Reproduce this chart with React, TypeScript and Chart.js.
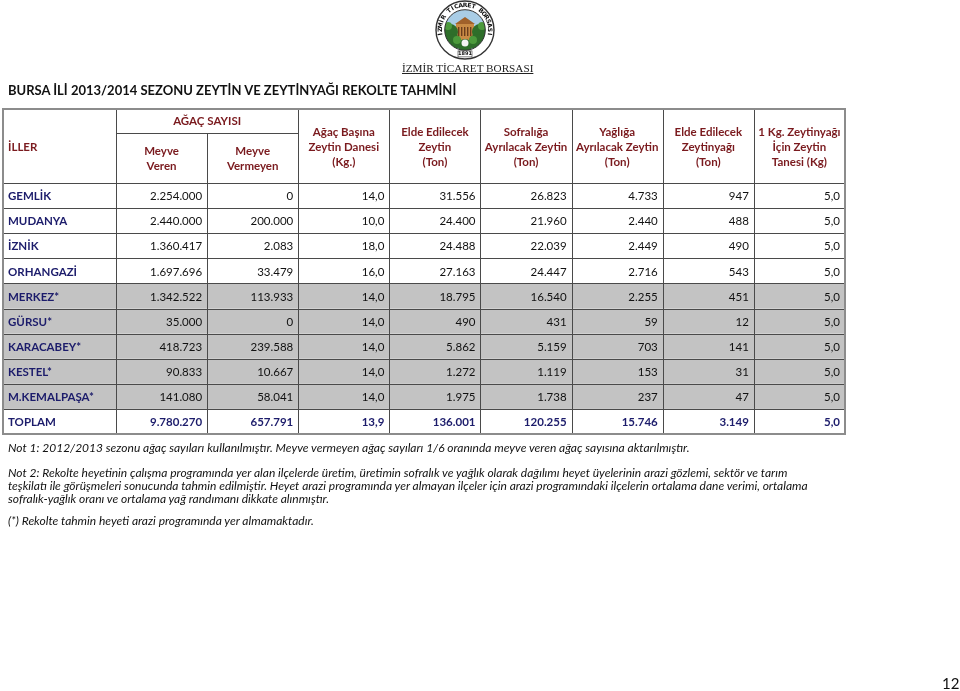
import React, { useEffect, useRef } from 'react';
import { Chart, registerables } from 'chart.js';

Chart.register(...registerables);

// ---------- data ----------
const DISTRICTS = ['GEMLİK', 'MUDANYA', 'İZNİK', 'ORHANGAZİ', 'MERKEZ*', 'GÜRSU*', 'KARACABEY*', 'KESTEL*', 'M.KEMALPAŞA*', 'TOPLAM'];
const MEYVE_VEREN = [2254000, 2440000, 1360417, 1697696, 1342522, 35000, 418723, 90833, 141080, 9780270];
const MEYVE_VERMEYEN = [0, 200000, 2083, 33479, 113933, 0, 239588, 10667, 58041, 657791];
const AGAC_BASINA_KG = [14.0, 10.0, 18.0, 16.0, 14.0, 14.0, 14.0, 14.0, 14.0, 13.9];
const ELDE_ZEYTIN_TON = [31556, 24400, 24488, 27163, 18795, 490, 5862, 1272, 1975, 136001];
const SOFRALIK_TON = [26823, 21960, 22039, 24447, 16540, 431, 5159, 1119, 1738, 120255];
const YAGLIK_TON = [4733, 2440, 2449, 2716, 2255, 59, 703, 153, 237, 15746];
const ZEYTINYAGI_TON = [947, 488, 490, 543, 451, 12, 141, 31, 47, 3149];
const KG_ICIN_ZEYTIN = [5.0, 5.0, 5.0, 5.0, 5.0, 5.0, 5.0, 5.0, 5.0, 5.0];

const FIRST_HEADER = 'İLLER';
const GROUP_HEADER = 'AĞAÇ SAYISI';
const COLUMN_HEADERS = [
  ['Meyve', 'Veren'],
  ['Meyve', 'Vermeyen'],
  ['Ağaç Başına', 'Zeytin Danesi', '(Kg.)'],
  ['Elde Edilecek', 'Zeytin', '(Ton)'],
  ['Sofralığa', 'Ayrılacak Zeytin', '(Ton)'],
  ['Yağlığa', 'Ayrılacak Zeytin', '(Ton)'],
  ['Elde Edilecek', 'Zeytinyağı', '(Ton)'],
  ['1 Kg. Zeytinyağı', 'İçin Zeytin', 'Tanesi (Kg)'],
];
const SERIES = [MEYVE_VEREN, MEYVE_VERMEYEN, AGAC_BASINA_KG, ELDE_ZEYTIN_TON, SOFRALIK_TON, YAGLIK_TON, ZEYTINYAGI_TON, KG_ICIN_ZEYTIN];
const DECIMALS = [0, 0, 1, 0, 0, 0, 0, 1];

const TITLE = 'BURSA İLİ 2013/2014 SEZONU ZEYTİN VE ZEYTİNYAĞI REKOLTE TAHMİNİ';
const LOGO_CAPTION = 'İZMİR TİCARET BORSASI';
const NOTES = [
  'Not 1: 2012/2013 sezonu ağaç sayıları kullanılmıştır. Meyve vermeyen ağaç sayıları 1/6 oranında meyve veren ağaç sayısına aktarılmıştır.',
  'Not 2: Rekolte heyetinin çalışma programında yer alan ilçelerde üretim, üretimin sofralık ve yağlık olarak dağılımı heyet üyelerinin arazi gözlemi, sektör ve tarım',
  'teşkilatı ile görüşmeleri sonucunda tahmin edilmiştir. Heyet arazi programında yer almayan ilçeler için arazi programındaki ilçelerin ortalama dane verimi, ortalama',
  'sofralık-yağlık oranı ve ortalama yağ randımanı dikkate alınmıştır.',
  '(*) Rekolte tahmin heyeti arazi programında yer almamaktadır.',
];
const PAGE_NUMBER = '12';

// ---------- layout / style ----------
const W = 960;
const H = 691;
const FIRST_COL_UNITS = 1.24;
const TOTAL_UNITS = FIRST_COL_UNITS + SERIES.length;
const TABLE_LEFT = 3;
const TABLE_RIGHT = 845;
const HEADER_TOP = 109;
const SUBHEADER_LINE = 133;
const HEADER_BOTTOM = 183;
const TABLE_BOTTOM = 434;
const FONT = 'Lato, "Open Sans", sans-serif';
const HEADER_COLOR = '#7a1a1e';
const LABEL_COLOR = '#1c1c6b';
const SHADE = '#c3c3c3';
const LINE = '#4a4a4a';
const OUTER = '#8c8c8c';

function fmt(v: number, dec: number): string {
  if (dec > 0) return v.toFixed(dec).replace('.', ',');
  return String(Math.round(v)).replace(/\B(?=(\d{3})+(?!\d))/g, '.');
}

function drawLogo(ctx: CanvasRenderingContext2D, cx: number, cy: number, r: number) {
  ctx.save();
  ctx.beginPath();
  ctx.arc(cx, cy, r, 0, Math.PI * 2);
  ctx.fillStyle = '#ffffff';
  ctx.fill();
  ctx.lineWidth = 1.4;
  ctx.strokeStyle = '#333';
  ctx.stroke();
  const ri = r * 0.7;
  ctx.save();
  ctx.beginPath();
  ctx.arc(cx, cy, ri, 0, Math.PI * 2);
  ctx.clip();
  ctx.fillStyle = '#a9cde6';
  ctx.fillRect(cx - ri, cy - ri, ri * 2, ri * 2);
  ctx.fillStyle = '#c98b45';
  ctx.fillRect(cx - 9, cy - 6, 18, 16);
  ctx.fillStyle = '#a0612a';
  ctx.beginPath();
  ctx.moveTo(cx - 10, cy - 6);
  ctx.lineTo(cx, cy - 13);
  ctx.lineTo(cx + 10, cy - 6);
  ctx.closePath();
  ctx.fill();
  ctx.fillStyle = '#6b3d1c';
  for (let i = -7; i <= 6; i += 3) ctx.fillRect(cx + i, cy - 3, 1.4, 9);
  ctx.fillStyle = '#2e6e2a';
  [[-15, 2, 8], [15, 2, 8], [-12, 12, 8], [12, 12, 8], [0, 16, 7]].forEach(([dx, dy, rr]) => {
    ctx.beginPath();
    ctx.arc(cx + dx, cy + dy, rr, 0, Math.PI * 2);
    ctx.fill();
  });
  ctx.fillStyle = '#4c9a3c';
  [[-17, -4, 4], [17, -4, 4], [-8, 10, 4], [8, 10, 4]].forEach(([dx, dy, rr]) => {
    ctx.beginPath();
    ctx.arc(cx + dx, cy + dy, rr, 0, Math.PI * 2);
    ctx.fill();
  });
  ctx.fillStyle = '#f4f4f4';
  ctx.beginPath();
  ctx.arc(cx, cy + 13, 3.5, 0, Math.PI * 2);
  ctx.fill();
  ctx.restore();
  ctx.beginPath();
  ctx.arc(cx, cy, ri, 0, Math.PI * 2);
  ctx.lineWidth = 1;
  ctx.strokeStyle = '#333';
  ctx.stroke();
  const txt = LOGO_CAPTION;
  ctx.fillStyle = '#111';
  ctx.font = 'bold 6px "DejaVu Sans", sans-serif';
  ctx.textAlign = 'center';
  ctx.textBaseline = 'middle';
  const start = -Math.PI * 1.08;
  const end = Math.PI * 0.08;
  const n = txt.length;
  for (let i = 0; i < n; i++) {
    const a = start + ((end - start) * (i + 0.5)) / n;
    ctx.save();
    ctx.translate(cx + Math.cos(a) * r * 0.85, cy + Math.sin(a) * r * 0.85);
    ctx.rotate(a + Math.PI / 2);
    ctx.fillText(txt[i], 0, 0);
    ctx.restore();
  }
  ctx.fillStyle = '#fff';
  ctx.fillRect(cx - 7, cy + r * 0.72, 14, 6);
  ctx.strokeStyle = '#333';
  ctx.lineWidth = 0.6;
  ctx.strokeRect(cx - 7, cy + r * 0.72, 14, 6);
  ctx.fillStyle = '#111';
  ctx.font = 'bold 5px "DejaVu Sans", sans-serif';
  ctx.fillText('1891', cx, cy + r * 0.72 + 3);
  ctx.restore();
}

const tablePlugin = {
  id: 'tablePlugin',
  afterDraw(chart: any) {
    const ctx: CanvasRenderingContext2D = chart.ctx;
    const xs = chart.scales.x;
    const ys = chart.scales.y;
    const area = chart.chartArea;
    const nRows = DISTRICTS.length;
    const band = (area.bottom - area.top) / nRows;
    const edges: number[] = [xs.getPixelForValue(0)];
    for (let k = 0; k <= SERIES.length; k++) edges.push(xs.getPixelForValue(FIRST_COL_UNITS + k));
    ctx.save();

    DISTRICTS.forEach((d, i) => {
      if (d.endsWith('*')) {
        const yc = ys.getPixelForValue(i);
        ctx.fillStyle = SHADE;
        ctx.fillRect(edges[0], yc - band / 2, edges[edges.length - 1] - edges[0], band);
      }
    });

    ctx.strokeStyle = LINE;
    ctx.lineWidth = 1;
    const hline = (y: number, x0: number, x1: number) => {
      ctx.beginPath();
      ctx.moveTo(x0, Math.round(y) + 0.5);
      ctx.lineTo(x1, Math.round(y) + 0.5);
      ctx.stroke();
    };
    const vline = (x: number, y0: number, y1: number) => {
      ctx.beginPath();
      ctx.moveTo(Math.round(x) + 0.5, y0);
      ctx.lineTo(Math.round(x) + 0.5, y1);
      ctx.stroke();
    };
    for (let i = 0; i <= nRows; i++) hline(area.top + i * band, edges[0], edges[edges.length - 1]);
    hline(SUBHEADER_LINE, edges[1], edges[3]);
    for (let k = 1; k < edges.length - 1; k++) {
      vline(edges[k], k === 2 ? SUBHEADER_LINE : HEADER_TOP, area.bottom);
    }
    ctx.strokeStyle = OUTER;
    ctx.lineWidth = 2;
    ctx.strokeRect(edges[0], HEADER_TOP, edges[edges.length - 1] - edges[0], area.bottom - HEADER_TOP);

    ctx.fillStyle = HEADER_COLOR;
    ctx.textBaseline = 'middle';
    ctx.font = `bold 11.5px ${FONT}`;
    ctx.textAlign = 'left';
    ctx.fillText(FIRST_HEADER, edges[0] + 5, (HEADER_TOP + HEADER_BOTTOM) / 2 + 1);
    ctx.textAlign = 'center';
    ctx.fillText(GROUP_HEADER, (edges[1] + edges[3]) / 2, (HEADER_TOP + SUBHEADER_LINE) / 2);
    COLUMN_HEADERS.forEach((lines, k) => {
      const xc = (edges[k + 1] + edges[k + 2]) / 2;
      const mid = k < 2 ? (SUBHEADER_LINE + HEADER_BOTTOM) / 2 + 1 : (HEADER_TOP + HEADER_BOTTOM) / 2 + 1;
      const lh = 15;
      lines.forEach((t, j) => {
        ctx.fillText(t, xc, mid + (j - (lines.length - 1) / 2) * lh);
      });
    });

    ctx.textAlign = 'left';
    ctx.fillStyle = LABEL_COLOR;
    ctx.font = `bold 11.5px ${FONT}`;
    DISTRICTS.forEach((d, i) => {
      ctx.fillText(d, edges[0] + 5, ys.getPixelForValue(i) + 1);
    });

    ctx.textAlign = 'right';
    chart.data.datasets.forEach((ds: any, k: number) => {
      const meta = chart.getDatasetMeta(k);
      const right = edges[k + 2] - 5;
      meta.data.forEach((pt: any, i: number) => {
        const isTotal = DISTRICTS[i] === 'TOPLAM';
        ctx.fillStyle = isTotal ? LABEL_COLOR : '#111';
        ctx.font = `${isTotal ? 'bold ' : ''}11.5px ${FONT}`;
        ctx.fillText(fmt(SERIES[k][i], DECIMALS[k]), right, pt.y + 1);
      });
    });

    drawLogo(ctx, 465, 30, 29);
    ctx.restore();
  },
};

export default function App() {
  const ref = useRef<HTMLCanvasElement>(null);
  useEffect(() => {
    document.body.style.margin = '0';
    const canvas = ref.current!;
    const chart = new Chart(canvas, {
      type: 'scatter',
      data: {
        datasets: SERIES.map((vals, k) => ({
          label: COLUMN_HEADERS[k].join(' '),
          data: vals.map((_, i) => ({ x: FIRST_COL_UNITS + k + 0.5, y: DISTRICTS[i] as any })),
          pointRadius: 0,
          pointHoverRadius: 0,
        })),
      },
      options: {
        responsive: false,
        animation: false,
        devicePixelRatio: 1,
        layout: {
          padding: { left: TABLE_LEFT, right: W - TABLE_RIGHT, top: HEADER_BOTTOM, bottom: H - TABLE_BOTTOM },
        },
        plugins: { legend: { display: false }, tooltip: { enabled: false }, title: { display: false } },
        events: [],
        scales: {
          x: { type: 'linear', min: 0, max: TOTAL_UNITS, display: false },
          y: { type: 'category', labels: DISTRICTS, offset: true, display: false },
        },
      } as any,
      plugins: [tablePlugin],
    });
    return () => chart.destroy();
  }, []);

  const abs = (extra: React.CSSProperties): React.CSSProperties => ({
    position: 'absolute',
    whiteSpace: 'nowrap',
    fontFamily: FONT,
    color: '#111',
    ...extra,
  });

  const noteTops = [439.5, 464.5, 477.5, 490.5, 512.5];

  return (
    <div style={{ position: 'relative', width: W, height: H, overflow: 'hidden', background: '#fff' }}>
      <canvas ref={ref} width={W} height={H} style={{ position: 'absolute', left: 0, top: 0, width: W, height: H }} />
      <div style={abs({ left: 402, top: 61, fontFamily: '"Liberation Serif", serif', fontSize: 11.2, lineHeight: '14px', textDecoration: 'underline', color: '#222' })}>{LOGO_CAPTION}</div>
      <div style={abs({ left: 8, top: 81, fontSize: 13, fontWeight: 700, lineHeight: '18px' })}>{TITLE}</div>
      {NOTES.map((t, i) => (
        <div key={i} style={abs({ left: 8, top: noteTops[i], fontSize: 12, fontStyle: 'italic', lineHeight: '15px' })}>{t}</div>
      ))}
      <div style={abs({ left: 942, top: 674, fontSize: 15, lineHeight: '18px' })}>{PAGE_NUMBER}</div>
    </div>
  );
}
